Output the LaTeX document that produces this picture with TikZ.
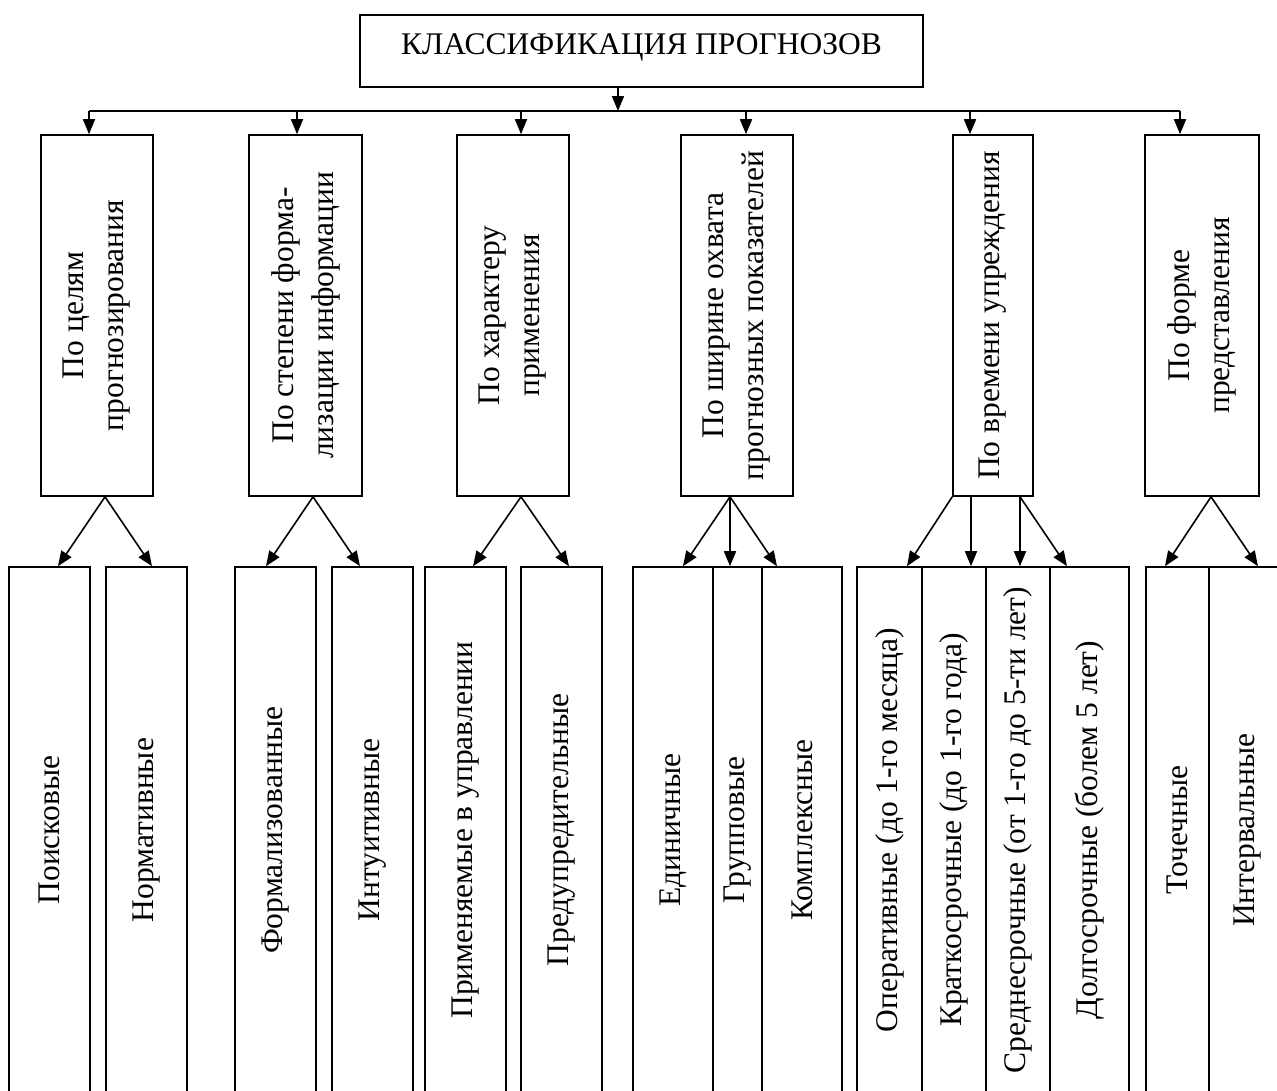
\documentclass[tikz,border=0pt]{standalone}
\usepackage{fontspec}
\setmainfont{Liberation Serif}
\usetikzlibrary{arrows.meta}
\begin{document}
\begin{tikzpicture}[x=1pt,y=-1pt,
  box/.style={draw,line width=1.6pt,inner sep=0pt},
  cat/.style={box,minimum height=361pt},
  leaf/.style={box,minimum height=526pt},
  lbl/.style={font=\fontsize{31.5}{40}\selectfont,align=center,inner sep=0pt},
  vlbl/.style={lbl,rotate=90},
  ln/.style={line width=1.6pt},
  arr/.style={line width=1.6pt,-{Triangle[length=15pt,width=12pt]}}]
\useasboundingbox (0,0) rectangle (1277,1090);
\clip (0,0) rectangle (1277,1090);

% top
\node[box,minimum width=563pt,minimum height=72pt] (top) at (641.5,51) {};
\node[lbl] (toptext) at (641.5,47) {КЛАССИФИКАЦИЯ ПРОГНОЗОВ};

% categories
\node[cat,minimum width=112pt] (c1) at (97,315.5) {};
\node[cat,minimum width=113pt] (c2) at (305.5,315.5) {};
\node[cat,minimum width=112pt] (c3) at (513,315.5) {};
\node[cat,minimum width=112pt] (c4) at (737,315.5) {};
\node[cat,minimum width=80pt] (c5) at (993,315.5) {};
\node[cat,minimum width=114pt] (c6) at (1202,315.5) {};

\node[vlbl] (t1) at (c1.center) {По целям\\прогнозирования};
\node[vlbl] (t2) at (c2.center) {По степени форма-\\лизации информации};
\node[vlbl] (t3) at (c3.center) {По характеру\\применения};
\node[vlbl] (t4) at (c4.center) {По ширине охвата\\прогнозных показателей};
\node[vlbl] (t5) at (c5.center) {По времени упреждения};
\node[vlbl] (t6) at (c6.center) {По форме\\представления};

% leaves
\node[leaf,minimum width=81pt] (b1) at (49.5,830) {};
\node[leaf,minimum width=81pt] (b2) at (146.5,830) {};
\node[leaf,minimum width=81pt] (b3) at (275.5,830) {};
\node[leaf,minimum width=81pt] (b4) at (372.5,830) {};
\node[leaf,minimum width=81pt] (b5) at (465.5,830) {};
\node[leaf,minimum width=81pt] (b6) at (561.5,830) {};
\node[leaf,minimum width=80pt] (b7) at (673,830) {};
\node[leaf,minimum width=49pt] (b8) at (737.5,830) {};
\node[leaf,minimum width=80pt] (b9) at (802,830) {};
\node[leaf,minimum width=65pt] (b10) at (889.5,830) {};
\node[leaf,minimum width=64pt] (b11) at (954,830) {};
\node[leaf,minimum width=64pt] (b12) at (1018,830) {};
\node[leaf,minimum width=79pt] (b13) at (1089.5,830) {};
\node[leaf,minimum width=63pt] (b14) at (1177.5,830) {};
\node[leaf,minimum width=78pt] (b15) at (1248,830) {};

\node[vlbl] (l1) at (b1.center) {Поисковые};
\node[vlbl] (l2) at (b2.center) {Нормативные};
\node[vlbl] (l3) at (b3.center) {Формализованные};
\node[vlbl] (l4) at (b4.center) {Интуитивные};
\node[vlbl] (l5) at (b5.center) {Применяемые в управлении};
\node[vlbl] (l6) at (b6.center) {Предупредительные};
\node[vlbl] (l7) at (b7.center) {Единичные};
\node[vlbl] (l8) at (b8.center) {Групповые};
\node[vlbl] (l9) at (b9.center) {Комплексные};
\node[vlbl] (l10) at (b10.center) {Оперативные (до 1-го месяца)};
\node[vlbl] (l11) at (b11.center) {Краткосрочные (до 1-го года)};
\node[vlbl] (l12) at (b12.center) {Среднесрочные (от 1-го до 5-ти лет)};
\node[vlbl] (l13) at (b13.center) {Долгосрочные (болем 5 лет)};
\node[vlbl] (l14) at (b14.center) {Точечные};
\node[vlbl] (l15) at (b15.center) {Интервальные};

% bus
\coordinate (bus) at (0,111);
\draw[arr] ([xshift=-23.5pt]top.south) -- ([xshift=-23.5pt]top.south |- bus);
\draw[ln] ([xshift=-8pt]c1.north |- bus) -- ([xshift=-22pt]c6.north |- bus);
\draw[arr] ([xshift=-8pt]c1.north |- bus) -- ([xshift=-8pt]c1.north);
\draw[arr] ([xshift=-8.5pt]c2.north |- bus) -- ([xshift=-8.5pt]c2.north);
\draw[arr] ([xshift=8pt]c3.north |- bus) -- ([xshift=8pt]c3.north);
\draw[arr] ([xshift=9pt]c4.north |- bus) -- ([xshift=9pt]c4.north);
\draw[arr] ([xshift=-23pt]c5.north |- bus) -- ([xshift=-23pt]c5.north);
\draw[arr] ([xshift=-22pt]c6.north |- bus) -- ([xshift=-22pt]c6.north);

% category -> leaves
\draw[arr] ([xshift=8pt]c1.south) -- ([xshift=8.5pt]b1.north);
\draw[arr] ([xshift=8pt]c1.south) -- ([xshift=5.5pt]b2.north);
\draw[arr] ([xshift=7.5pt]c2.south) -- ([xshift=-9.5pt]b3.north);
\draw[arr] ([xshift=7.5pt]c2.south) -- ([xshift=-12.5pt]b4.north);
\draw[arr] ([xshift=8pt]c3.south) -- ([xshift=7.5pt]b5.north);
\draw[arr] ([xshift=8pt]c3.south) -- ([xshift=7.5pt]b6.north);
\draw[arr] ([xshift=-7pt]c4.south) -- ([xshift=10pt]b7.north);
\draw[arr] ([xshift=-7pt]c4.south) -- ([xshift=-7.5pt]b8.north);
\draw[arr] ([xshift=-7pt]c4.south) -- ([xshift=-25pt]b9.north);
\draw[arr] (c5.south west) -- ([xshift=17.5pt]b10.north);
\draw[arr] ([xshift=-22pt]c5.south) -- ([xshift=17pt]b11.north);
\draw[arr] ([xshift=27pt]c5.south) -- ([xshift=2pt]b12.north);
\draw[arr] ([xshift=27pt]c5.south) -- ([xshift=-22.5pt]b13.north);
\draw[arr] ([xshift=9pt]c6.south) -- ([xshift=-12.5pt]b14.north);
\draw[arr] ([xshift=9pt]c6.south) -- ([xshift=10pt]b15.north);
\end{tikzpicture}
\end{document}
